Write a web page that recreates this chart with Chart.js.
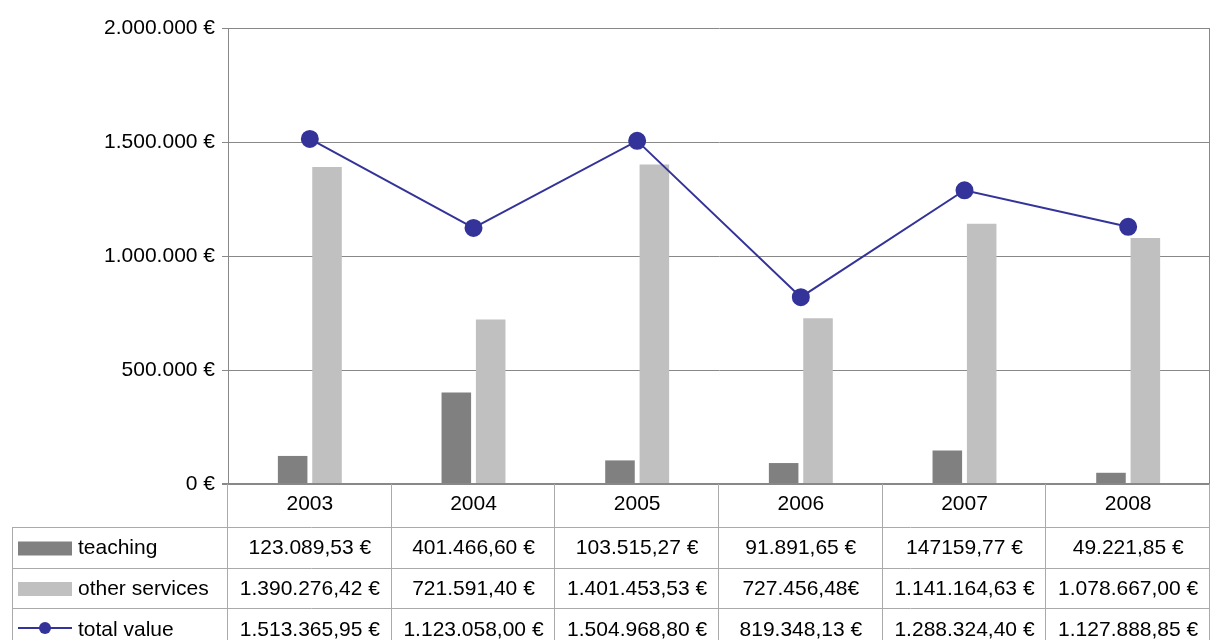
<!DOCTYPE html>
<html>
<head>
<meta charset="utf-8">
<script src="https://cdn.jsdelivr.net/npm/chart.js@4/dist/chart.umd.min.js"></script>
<style>
  html, body { margin: 0; padding: 0; background: #fff; }
  canvas { display: block; }
</style>
</head>
<body>
<canvas id="chart" width="1211" height="640"></canvas>
<script>
const years = ['2003', '2004', '2005', '2006', '2007', '2008'];
const teaching = [123089.53, 401466.60, 103515.27, 91891.65, 147159.77, 49221.85];
const otherServices = [1390276.42, 721591.40, 1401453.53, 727456.48, 1141164.63, 1078667.00];
const totalValue = [1513365.95, 1123058.00, 1504968.80, 819348.13, 1288324.40, 1127888.85];

// table cell texts as printed in the original sheet
const teachingText = ['123.089,53 €', '401.466,60 €', '103.515,27 €', '91.891,65 €', '147159,77 €', '49.221,85 €'];
const otherText = ['1.390.276,42 €', '721.591,40 €', '1.401.453,53 €', '727.456,48€', '1.141.164,63 €', '1.078.667,00 €'];
const totalText = ['1.513.365,95 €', '1.123.058,00 €', '1.504.968,80 €', '819.348,13 €', '1.288.324,40 €', '1.127.888,85 €'];

const FONT = '21px "Liberation Sans", Arial, sans-serif';
const GRID = '#888888';
const TABLE_LINE = '#aaaaaa';

function euro(v) {
    return String(Math.round(v)).replace(/\B(?=(\d{3})+(?!\d))/g, '.') + ' €';
}

const tablePlugin = {
    id: 'dataTable',
    afterDraw(chart) {
        const ctx = chart.ctx;
        const area = chart.chartArea;
        const x = chart.scales.x;
        const colW = (area.right - area.left) / years.length;
        const rowTops = [area.bottom, 527, 568, 608, 650];
        const tableLeft = 12;

        ctx.save();
        // right border of plot
        ctx.strokeStyle = GRID;
        ctx.lineWidth = 1;
        ctx.beginPath();
        ctx.moveTo(area.right - 0.5, area.top);
        ctx.lineTo(area.right - 0.5, area.bottom);
        ctx.stroke();

        // table grid
        ctx.strokeStyle = TABLE_LINE;
        ctx.beginPath();
        for (let i = 0; i <= years.length; i++) {
            const cx = Math.round(area.left + i * colW) - 0.5;
            ctx.moveTo(cx, area.bottom);
            ctx.lineTo(cx, 640);
        }
        ctx.moveTo(tableLeft + 0.5, rowTops[1]);
        ctx.lineTo(tableLeft + 0.5, 640);
        for (let r = 1; r <= 3; r++) {
            ctx.moveTo(tableLeft, rowTops[r] + 0.5);
            ctx.lineTo(area.right, rowTops[r] + 0.5);
        }
        ctx.stroke();

        ctx.font = FONT;
        ctx.fillStyle = '#000';
        ctx.textAlign = 'center';
        ctx.textBaseline = 'middle';
        years.forEach((y, i) => {
            ctx.fillText(y, x.getPixelForValue(i), (rowTops[0] + rowTops[1]) / 2 - 1);
        });

        const rows = [teachingText, otherText, totalText];
        rows.forEach((cells, r) => {
            const cy = (rowTops[r + 1] + rowTops[r + 2]) / 2 + 1;
            cells.forEach((t, i) => ctx.fillText(t, x.getPixelForValue(i), cy));
        });

        // row headers with legend keys
        const ds = chart.data.datasets;
        ctx.textAlign = 'left';
        for (let r = 0; r < 3; r++) {
            const cy = (rowTops[r + 1] + rowTops[r + 2]) / 2 + 1;
            const d = ds[r];
            if (d.type === 'line') {
                ctx.strokeStyle = d.borderColor;
                ctx.lineWidth = 2;
                ctx.beginPath();
                ctx.moveTo(18, cy - 2);
                ctx.lineTo(72, cy - 2);
                ctx.stroke();
                ctx.fillStyle = d.pointBackgroundColor;
                ctx.beginPath();
                ctx.arc(45, cy - 2, 6, 0, Math.PI * 2);
                ctx.fill();
            } else {
                ctx.fillStyle = d.backgroundColor;
                ctx.fillRect(18, cy - 7, 54, 14);
            }
            ctx.fillStyle = '#000';
            ctx.fillText(d.label, 78, cy);
        }
        ctx.restore();
    },
};

new Chart(document.getElementById('chart'), {
    data: {
        labels: years,
        datasets: [
            {
                type: 'bar',
                label: 'teaching',
                data: teaching,
                backgroundColor: '#808080',
                categoryPercentage: 0.42,
                barPercentage: 0.86,
                order: 1,
            },
            {
                type: 'bar',
                label: 'other services',
                data: otherServices,
                backgroundColor: '#c0c0c0',
                categoryPercentage: 0.42,
                barPercentage: 0.86,
                order: 1,
            },
            {
                type: 'line',
                label: 'total value',
                data: totalValue,
                borderColor: '#333399',
                borderWidth: 2,
                pointBackgroundColor: '#333399',
                pointBorderColor: '#333399',
                pointRadius: 8,
                tension: 0,
                order: 0,
            },
        ],
    },
    options: {
        responsive: false,
        animation: false,
        layout: {
            autoPadding: false,
            padding: { top: 28, right: 1, bottom: 156, left: 0 },
        },
        plugins: {
            legend: { display: false },
            tooltip: { enabled: false },
        },
        scales: {
            x: {
                display: false,
                offset: true,
            },
            y: {
                min: 0,
                max: 2000000,
                afterFit(scale) {
                    scale.width = 228;
                },
                ticks: {
                    stepSize: 500000,
                    color: '#000',
                    padding: 7,
                    font: { family: '"Liberation Sans", Arial, sans-serif', size: 21 },
                    callback(value) {
                        return euro(value);
                    },
                },
                grid: {
                    color: GRID,
                    tickLength: 6,
                    lineWidth(ctx) {
                        return ctx.tick && ctx.tick.value === 0 ? 2 : 1;
                    },
                },
                border: { color: GRID, width: 1 },
            },
        },
    },
    plugins: [tablePlugin],
});
</script>
</body>
</html>
